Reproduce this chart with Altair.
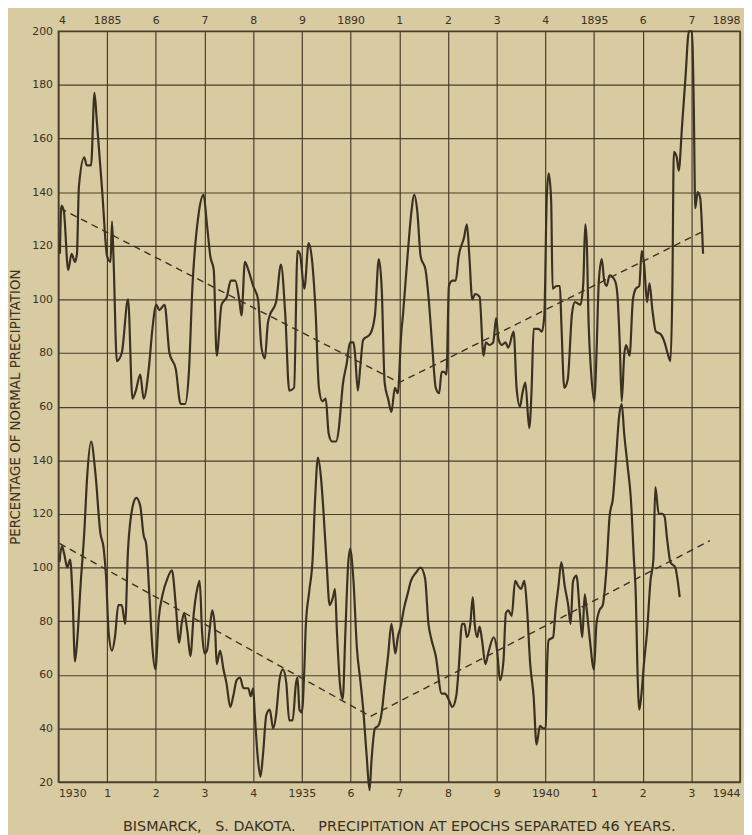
import altair as alt
import pandas as pd

# ---------------- data ----------------
# Upper record: 1884-1898 (top axis), percentage of normal precipitation
UPPER_YEAR = [1884.03, 1884.06, 1884.11, 1884.20, 1884.27, 1884.34, 1884.38, 1884.42, 1884.53, 1884.58,
              1884.67, 1884.74, 1884.79, 1884.90, 1885.00, 1885.07, 1885.10, 1885.13, 1885.20, 1885.30,
              1885.43, 1885.52, 1885.59, 1885.68, 1885.75, 1885.86, 1885.93, 1886.01, 1886.07, 1886.18,
              1886.28, 1886.41, 1886.51, 1886.60, 1886.68, 1886.75, 1886.88, 1886.98, 1887.05, 1887.12,
              1887.19, 1887.25, 1887.35, 1887.46, 1887.54, 1887.63, 1887.72, 1887.76, 1887.83, 1887.90,
              1888.00, 1888.10, 1888.17, 1888.24, 1888.30, 1888.34, 1888.47, 1888.57, 1888.66, 1888.74,
              1888.84, 1888.91, 1888.96, 1889.05, 1889.14, 1889.20, 1889.28, 1889.35, 1889.42, 1889.49,
              1889.55, 1889.62, 1889.70, 1889.76, 1889.80, 1889.84, 1889.92, 1889.99, 1890.06, 1890.09,
              1890.15, 1890.20, 1890.26, 1890.40, 1890.50, 1890.58, 1890.64, 1890.70, 1890.77, 1890.84,
              1890.91, 1890.97, 1891.04, 1891.08, 1891.17, 1891.24, 1891.31, 1891.37, 1891.44, 1891.54,
              1891.61, 1891.68, 1891.75, 1891.82, 1891.87, 1891.92, 1891.97, 1892.02, 1892.09, 1892.16,
              1892.22, 1892.33, 1892.39, 1892.44, 1892.50, 1892.56, 1892.65, 1892.73, 1892.78, 1892.85,
              1892.93, 1892.99, 1893.04, 1893.11, 1893.18, 1893.24, 1893.35, 1893.41, 1893.48, 1893.53,
              1893.59, 1893.67, 1893.72, 1893.76, 1893.86, 1893.93, 1893.98, 1894.03, 1894.07, 1894.12,
              1894.15, 1894.23, 1894.30, 1894.33, 1894.39, 1894.46, 1894.55, 1894.61, 1894.72, 1894.78,
              1894.82, 1894.85, 1894.89, 1894.94, 1895.01, 1895.05, 1895.10, 1895.16, 1895.21, 1895.26,
              1895.32, 1895.43, 1895.48, 1895.53, 1895.57, 1895.62, 1895.66, 1895.73, 1895.80, 1895.86,
              1895.93, 1895.98, 1896.03, 1896.09, 1896.14, 1896.20, 1896.27, 1896.37, 1896.45, 1896.51,
              1896.57, 1896.61, 1896.64, 1896.70, 1896.74, 1896.81, 1896.88, 1896.95, 1897.01, 1897.05,
              1897.08, 1897.13, 1897.18, 1897.24]
UPPER_VALUE = [117, 135, 133, 111, 117, 114, 117, 142, 153, 150,
               150, 177, 166, 140, 116, 114, 129, 116, 77, 80,
               100, 63, 66, 72, 63, 75, 89, 98, 96, 98,
               80, 74, 61, 61, 73, 104, 132, 139, 128, 116,
               111, 79, 98, 101, 107, 107, 99, 94, 114, 111,
               105, 100, 82, 78, 91, 94, 99, 113, 94, 66,
               67, 118, 117, 104, 121, 116, 96, 67, 62, 63,
               50, 47, 47, 52, 60, 68, 76, 84, 84, 80,
               66, 75, 85, 87, 94, 115, 104, 69, 63, 58,
               67, 65, 87, 95, 116, 131, 139, 133, 116, 111,
               99, 82, 67, 65, 73, 73, 72, 105, 107, 107,
               116, 123, 128, 116, 100, 102, 101, 79, 84, 83,
               84, 93, 85, 83, 84, 82, 88, 67, 60, 65,
               69, 52, 67, 89, 89, 88, 94, 138, 147, 137,
               104, 105, 105, 91, 67, 70, 95, 99, 98, 106,
               128, 122, 91, 73, 62, 79, 107, 115, 107, 105,
               109, 107, 102, 83, 62, 79, 83, 79, 100, 104,
               105, 118, 113, 99, 106, 96, 88, 87, 84, 80,
               77, 104, 155, 153, 148, 165, 183, 200, 200, 172,
               134, 140, 138, 117]

# Lower record: 1930-1944 (bottom axis)
LOWER_YEAR = [1930.02, 1930.07, 1930.12, 1930.18, 1930.24, 1930.29, 1930.34, 1930.39, 1930.46, 1930.53,
              1930.59, 1930.67, 1930.76, 1930.86, 1930.93, 1930.98, 1931.03, 1931.10, 1931.16, 1931.23,
              1931.30, 1931.37, 1931.43, 1931.54, 1931.60, 1931.68, 1931.75, 1931.80, 1931.87, 1931.93,
              1931.99, 1932.06, 1932.14, 1932.24, 1932.33, 1932.41, 1932.48, 1932.53, 1932.58, 1932.65,
              1932.71, 1932.78, 1932.85, 1932.90, 1932.95, 1933.00, 1933.05, 1933.10, 1933.16, 1933.22,
              1933.25, 1933.32, 1933.39, 1933.45, 1933.53, 1933.59, 1933.66, 1933.73, 1933.80, 1933.90,
              1933.95, 1934.00, 1934.03, 1934.10, 1934.15, 1934.20, 1934.27, 1934.34, 1934.41, 1934.47,
              1934.54, 1934.61, 1934.68, 1934.74, 1934.81, 1934.88, 1934.91, 1934.95, 1935.00, 1935.05,
              1935.08, 1935.15, 1935.22, 1935.27, 1935.33, 1935.39, 1935.44, 1935.51, 1935.57, 1935.64,
              1935.68, 1935.72, 1935.79, 1935.84, 1935.89, 1935.95, 1935.99, 1936.06, 1936.13, 1936.20,
              1936.26, 1936.33, 1936.39, 1936.43, 1936.50, 1936.57, 1936.64, 1936.70, 1936.77, 1936.84,
              1936.92, 1936.97, 1937.03, 1937.10, 1937.17, 1937.24, 1937.34, 1937.44, 1937.53, 1937.60,
              1937.65, 1937.75, 1937.87, 1937.94, 1938.01, 1938.09, 1938.17, 1938.22, 1938.29, 1938.34,
              1938.39, 1938.46, 1938.51, 1938.55, 1938.60, 1938.65, 1938.70, 1938.77, 1938.84, 1938.94,
              1939.01, 1939.07, 1939.14, 1939.19, 1939.24, 1939.31, 1939.38, 1939.45, 1939.50, 1939.57,
              1939.62, 1939.69, 1939.76, 1939.82, 1939.89, 1939.96, 1940.01, 1940.03, 1940.07, 1940.16,
              1940.21, 1940.27, 1940.33, 1940.40, 1940.47, 1940.52, 1940.57, 1940.64, 1940.71, 1940.76,
              1940.81, 1940.84, 1940.91, 1941.00, 1941.05, 1941.11, 1941.18, 1941.25, 1941.32, 1941.39,
              1941.45, 1941.52, 1941.57, 1941.62, 1941.69, 1941.76, 1941.82, 1941.86, 1941.89, 1941.93,
              1941.97, 1942.03, 1942.09, 1942.16, 1942.22, 1942.26, 1942.33, 1942.40, 1942.45, 1942.50,
              1942.57, 1942.67, 1942.72, 1942.76]
LOWER_VALUE = [102, 108, 105, 100, 103, 89, 65, 74, 95, 113,
               134, 147, 135, 113, 107, 96, 76, 69, 74, 86,
               86, 79, 107, 124, 126, 123, 112, 109, 89, 70,
               62, 81, 90, 96, 99, 86, 72, 79, 83, 76,
               67, 83, 92, 95, 76, 68, 69, 76, 84, 76,
               64, 69, 62, 57, 48, 52, 58, 59, 55, 55,
               52, 55, 46, 28, 22, 30, 45, 47, 40, 45,
               58, 62, 57, 43, 43, 57, 59, 47, 46, 62,
               78, 91, 103, 125, 141, 134, 122, 101, 86, 89,
               92, 76, 55, 51, 74, 101, 107, 95, 70, 58,
               47, 30, 17, 28, 40, 41, 46, 56, 67, 79,
               68, 74, 78, 85, 90, 95, 98, 100, 96, 79,
               74, 67, 53, 53, 51, 48, 52, 62, 79, 79,
               74, 79, 89, 79, 74, 78, 73, 64, 69, 74,
               69, 58, 65, 83, 84, 82, 95, 93, 92, 95,
               86, 64, 52, 34, 41, 40, 40, 59, 73, 74,
               84, 93, 102, 93, 86, 79, 95, 97, 83, 74,
               90, 86, 74, 62, 79, 84, 86, 98, 119, 126,
               140, 157, 161, 150, 138, 125, 103, 89, 64, 47,
               52, 65, 76, 95, 103, 130, 120, 120, 119, 111,
               102, 100, 95, 89]

# Dashed trend lines (vertex years and values)
UPPER_TREND_YEAR = [1884.03, 1891.0, 1897.2]
UPPER_TREND_VALUE = [134, 69, 125]
LOWER_TREND_YEAR = [1930.02, 1936.41, 1943.38]
LOWER_TREND_VALUE = [109, 44.5, 110]

EPOCH_SHIFT = 46      # years between the two epochs
PANEL_OFFSET = 100    # vertical offset of the lower record on the shared grid

BOTTOM_TICKS = list(range(1930, 1945))
Y_TICKS = list(range(-80, 201, 20))

NB = "\u00a0"
TITLE = ("BISMARCK," + NB * 3 + "S." + NB + "DAKOTA." + NB * 5 +
         "PRECIPITATION AT EPOCHS SEPARATED 46 YEARS.")
Y_TITLE = "PERCENTAGE OF NORMAL PRECIPITATION"


def frame(years, values, name, shift, offset):
    return pd.DataFrame({
        "series": name,
        "year": years,
        "value": values,
        "x": [y + shift for y in years],
        "y": [v - offset for v in values],
    })


curves = pd.concat([
    frame(UPPER_YEAR, UPPER_VALUE, "1884-1898", EPOCH_SHIFT, 0),
    frame(LOWER_YEAR, LOWER_VALUE, "1930-1944", 0, PANEL_OFFSET),
])
trends = pd.concat([
    frame(UPPER_TREND_YEAR, UPPER_TREND_VALUE, "1884-1898", EPOCH_SHIFT, 0),
    frame(LOWER_TREND_YEAR, LOWER_TREND_VALUE, "1930-1944", 0, PANEL_OFFSET),
])

BG = "#d8caa1"
INK = "#3a3122"
GRID = "#4a3f2b"
FONT = "DejaVu Sans"

xscale = alt.Scale(domain=[1930, 1944], nice=False, zero=False)
yscale = alt.Scale(domain=[-80, 200], nice=False, zero=False)

common_axis = dict(labelFont=FONT, labelFontSize=11, labelColor=INK, ticks=False,
                   domain=False, labelPadding=6)

bottom_axis = alt.Axis(orient="bottom", values=BOTTOM_TICKS, title=None, grid=True,
                       gridColor=GRID, gridWidth=1.2, gridOpacity=1, labelFlush=True,
                       labelExpr="(datum.value % 5 == 0 || datum.value == 1944) ? datum.value : datum.value % 10",
                       **common_axis)
top_axis = alt.Axis(orient="top", values=BOTTOM_TICKS, title=None, grid=False, labelFlush=True,
                    labelExpr="((datum.value - 46) % 5 == 0 || datum.value == 1944) ? (datum.value - 46) : (datum.value - 46) % 10",
                    **common_axis)
left_axis = alt.Axis(orient="left", values=Y_TICKS, title=Y_TITLE, grid=True,
                     gridColor=GRID, gridWidth=1.2, gridOpacity=1,
                     labelExpr="datum.value >= 60 ? datum.value : datum.value + 100",
                     titleFont=FONT, titleFontSize=13.5, titleFontWeight="normal",
                     titleColor=INK, titlePadding=9, **common_axis)

lines = alt.Chart(curves).mark_line(color=INK, strokeWidth=2.2, interpolate="monotone").encode(
    x=alt.X("x:Q", scale=xscale, axis=bottom_axis),
    y=alt.Y("y:Q", scale=yscale, axis=left_axis),
    detail="series:N",
    order="x:Q",
)

dashes = alt.Chart(trends).mark_line(color=INK, strokeWidth=1.4, strokeDash=[7, 5]).encode(
    x=alt.X("x:Q", scale=xscale, axis=top_axis),
    y=alt.Y("y:Q", scale=yscale, axis=left_axis),
    detail="series:N",
    order="x:Q",
)

chart = alt.layer(dashes, lines).resolve_axis(x="independent").properties(
    width=689,
    height=759,
    autosize=alt.AutoSizeParams(type="none"),
    padding={"left": 51, "top": 19, "right": 4, "bottom": 49},
    background=BG,
    title=alt.TitleParams(TITLE, orient="bottom", anchor="middle", font=FONT, fontSize=14.5,
                          fontWeight="normal", color=INK, offset=21),
).configure_view(stroke=GRID, strokeWidth=1.6)

chart.save("out.html", embed_options={"renderer": "svg", "actions": False})
